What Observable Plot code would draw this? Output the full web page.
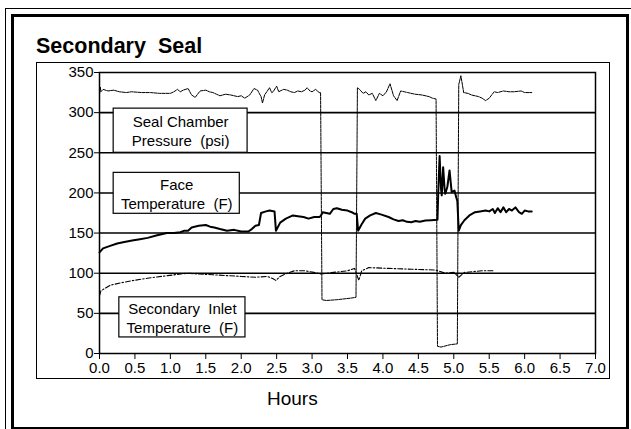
<!DOCTYPE html>
<html><head><meta charset="utf-8">
<script src="https://cdn.jsdelivr.net/npm/d3@7"></script>
<script src="https://cdn.jsdelivr.net/npm/@observablehq/plot@0.6"></script>
<style>
body{margin:0;background:#fff;}
#wrap{position:relative;width:631px;height:429px;overflow:hidden;font-family:"Liberation Sans",Arial,Helvetica,sans-serif;}
.b{position:absolute;box-sizing:border-box;}
#title{position:absolute;left:36px;top:34px;font-weight:bold;font-size:21.5px;white-space:pre;}
#xl{position:absolute;left:267px;top:388px;font-size:19px;}
#chart{position:absolute;left:0;top:0;}
</style></head><body>
<div id="wrap">
<div class="b" style="left:5px;top:8px;width:640px;height:440px;border:1px solid #000;"></div>
<div class="b" style="left:11px;top:14px;width:618px;height:416px;border:3px solid #000;"></div>
<div class="b" style="left:36px;top:62px;width:574px;height:317px;border:1px solid #000;"></div>
<div id="title">Secondary  Seal</div>
<div id="xl">Hours</div>
<div id="chart"></div>
</div>
<script>
// Seal chamber pressure (psi): [hours, value]
const pressure = [[0.00,322],[0.01,332],[0.02,326],[0.05,329],[0.12,327],[0.2,328],[0.28,326],[0.38,325],[0.45,326],[0.6,325],[0.72,325],[0.85,324],[1.0,324],[1.05,326],[1.1,329],[1.14,326],[1.18,328],[1.25,330],[1.3,322],[1.35,319],[1.42,327],[1.5,328],[1.55,326],[1.6,325],[1.65,323],[1.7,321],[1.78,323],[1.85,322],[1.95,320],[2.0,321],[2.05,318],[2.12,322],[2.18,330],[2.23,328],[2.28,320],[2.3,312],[2.33,322],[2.4,331],[2.43,325],[2.45,326],[2.5,333],[2.53,326],[2.55,327],[2.6,329],[2.65,328],[2.7,326],[2.75,325],[2.8,327],[2.85,326],[2.9,328],[2.93,331],[2.97,327],[3.0,326],[3.05,329],[3.1,325],[3.12,325],[3.14,67],[3.2,66],[3.35,67],[3.55,69],[3.62,70],[3.64,331],[3.67,329],[3.72,324],[3.76,326],[3.8,322],[3.85,324],[3.9,315],[3.95,324],[4.0,321],[4.05,326],[4.1,336],[4.15,321],[4.2,315],[4.25,327],[4.3,326],[4.35,325],[4.45,323],[4.55,322],[4.65,320],[4.7,318],[4.75,317],[4.77,9],[4.82,8],[4.95,11],[5.05,12],[5.07,335],[5.1,346],[5.14,325],[5.2,324],[5.25,322],[5.3,321],[5.35,320],[5.4,318],[5.45,315],[5.5,318],[5.57,326],[5.62,325],[5.7,327],[5.78,326],[5.85,326],[5.95,327],[6.0,325],[6.1,325]];
// Face temperature (F)
const faceTemp = [[0,126],[0.05,131],[0.15,134],[0.25,137],[0.35,139],[0.48,141],[0.55,142],[0.68,144],[0.8,147],[0.95,150],[1.05,150],[1.14,151],[1.2,153],[1.25,153],[1.3,157],[1.4,159],[1.5,160],[1.56,158],[1.62,157],[1.7,155],[1.8,153],[1.9,154],[2.0,152],[2.1,152],[2.15,155],[2.2,159],[2.25,160],[2.28,175],[2.35,177],[2.4,178],[2.47,177],[2.49,153],[2.55,163],[2.63,168],[2.73,172],[2.8,171],[2.88,170],[2.95,168],[3.03,170],[3.1,170],[3.12,171],[3.15,176],[3.2,175],[3.25,174],[3.3,180],[3.35,181],[3.42,179],[3.5,178],[3.56,176],[3.6,174],[3.63,174],[3.65,153],[3.7,161],[3.75,168],[3.82,172],[3.9,175],[3.98,173],[4.08,170],[4.15,167],[4.22,165],[4.28,166],[4.34,164],[4.4,163.5],[4.46,165],[4.52,164],[4.6,165.6],[4.68,166],[4.77,166.5],[4.78,199],[4.80,246],[4.82,205],[4.83,197],[4.85,232],[4.87,205],[4.88,199],[4.91,208],[4.94,228],[4.97,201],[5.01,203],[5.03,196],[5.05,190],[5.07,153],[5.1,160],[5.15,166],[5.22,172],[5.3,176],[5.37,177],[5.45,178],[5.5,177],[5.55,180],[5.58,175],[5.62,181],[5.66,176],[5.7,182],[5.74,176],[5.78,180],[5.82,178],[5.87,182],[5.92,176],[5.96,174],[6.0,178],[6.05,177],[6.1,177]];
// Secondary inlet temperature (F)
const inletTemp = [[0,72],[0.02,78],[0.15,85],[0.3,88],[0.48,91],[0.7,94],[0.96,97],[1.24,100],[1.4,99],[1.61,98],[1.8,97],[2.0,96],[2.2,95],[2.37,96],[2.45,93],[2.49,91],[2.55,96],[2.65,100],[2.75,103],[2.9,103],[3.03,101],[3.12,99],[3.3,101],[3.5,103],[3.6,106],[3.66,91],[3.7,103],[3.8,107],[4.08,106],[4.4,105],[4.74,104],[4.88,100],[5.0,101],[5.07,95],[5.15,101],[5.27,102],[5.4,103],[5.56,103]];
const gridValues = [50,100,150,200,250,300];
const yTicks = [0,50,100,150,200,250,300,350];
const xTicks = [0,0.5,1,1.5,2,2.5,3,3.5,4,4.5,5,5.5,6,6.5,7];
const labelText = ["Seal Chamber\nPressure  (psi)","Face\nTemperature  (F)","Secondary  Inlet\nTemperature  (F)"];
const labelX1 = [0.2,0.2,0.28];
const labelX2 = [2.09,1.98,2.06];
const labelY1 = [250,174,20];
const labelY2 = [305,225,70];
const labels = labelText.map((t,i)=>({t,x1:labelX1[i],x2:labelX2[i],y1:labelY1[i],y2:labelY2[i]}));

const chart = Plot.plot({
  width:631, height:429,
  marginLeft:99, marginRight:36, marginTop:72, marginBottom:76,
  style:{fontFamily:'"Liberation Sans",Arial,sans-serif',fontSize:"15px",background:"transparent",color:"#000",overflow:"visible"},
  x:{domain:[0,7]},
  y:{domain:[0,350]},
  marks:[
    Plot.ruleY(gridValues,{stroke:"#000",strokeWidth:1.6}),
    Plot.line(pressure,{x:d=>d[0],y:d=>d[1],stroke:"#000",strokeWidth:1,strokeDasharray:"3,1"}),
    Plot.line(inletTemp,{x:d=>d[0],y:d=>d[1],stroke:"#000",strokeWidth:1.1,strokeDasharray:"5,2,1.5,2"}),
    Plot.line(faceTemp,{x:d=>d[0],y:d=>d[1],stroke:"#000",strokeWidth:2}),
    Plot.rect(labels,{x1:"x1",x2:"x2",y1:"y1",y2:"y2",fill:"#fff",stroke:"#000",strokeWidth:1.2}),
    Plot.text(labels,{x:d=>(d.x1+d.x2)/2,y:d=>(d.y1+d.y2)/2,text:"t",fontSize:15,lineHeight:1.28,fill:"#000"}),
    Plot.frame({stroke:"#000",strokeWidth:1.5}),
    Plot.axisY(yTicks,{tickSize:5,tickPadding:1,label:null,fontSize:15,tickFormat:d=>String(d)}),
    Plot.axisX(xTicks,{tickSize:6,tickPadding:3,label:null,fontSize:15,tickFormat:d=>d.toFixed(1)})
  ]
});
document.getElementById("chart").appendChild(chart);
</script>
</body></html>
